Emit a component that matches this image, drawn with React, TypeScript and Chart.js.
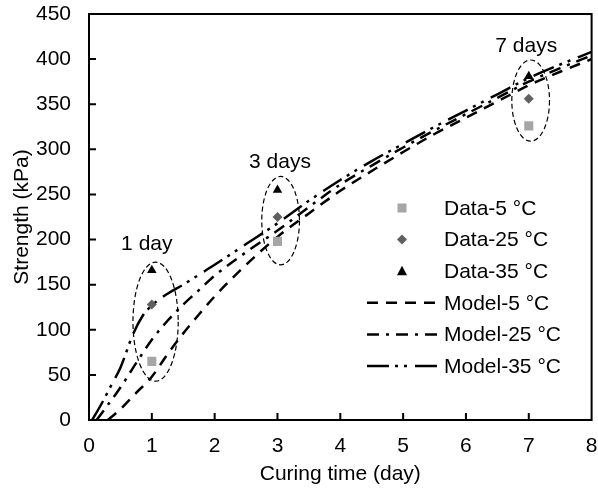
import React, { useEffect, useRef } from 'react';
import { Chart, registerables } from 'chart.js';

Chart.register(...registerables);

// ---- data ----
const curingDays = [1, 3, 7];
const data5C = [65, 198, 326];
const data25C = [128, 225, 356];
const data35C = [166, 255, 381];

const model5X = [0.3, 0.5, 0.75, 1, 1.25, 1.5, 1.75, 2, 2.5, 3, 3.5, 4, 4.5, 5, 5.5, 6, 6.5, 7, 7.5, 8];
const model5Y = [0, 12, 30, 48, 73, 96, 117, 137, 172, 203, 229, 254, 276, 297, 317, 335, 353, 371, 386, 400];

const model25X = [0.12, 0.25, 0.5, 0.75, 1, 1.25, 1.5, 1.75, 2, 2.5, 3, 3.5, 4, 4.5, 5, 5.5, 6, 6.5, 7, 7.5, 8];
const model25Y = [0, 12, 36, 63, 89, 110, 128, 144, 160, 186, 210, 236, 261, 282, 302, 321, 339, 357, 375, 390, 404];

const model35X = [0.05, 0.2, 0.35, 0.5, 0.7, 0.85, 1, 1.25, 1.5, 1.75, 2, 2.5, 3, 3.5, 4, 4.5, 5, 5.5, 6, 6.5, 7, 7.5, 8];
const model35Y = [0, 18, 38, 58, 95, 115, 127, 140, 150, 161, 172, 195, 218, 243, 266, 287, 306, 325, 343, 361, 379, 394, 408];

const xTicks = [0, 1, 2, 3, 4, 5, 6, 7, 8];
const yTicks = [0, 50, 100, 150, 200, 250, 300, 350, 400, 450];

// annotation groups: label, label position, ellipse centre and radii (data units)
const groupLabels = ['1 day', '3 days', '7 days'];
const labelX = [0.92, 3.04, 6.96];
const labelY = [195, 286, 414];
const ellipseCX = [1.06, 3.05, 7.03];
const ellipseCY = [109, 221, 354];
const ellipseRX = [0.36, 0.3, 0.3];
const ellipseRY = [66, 49, 45];

const FONT = "'Liberation Sans', Arial, sans-serif";
const FS = 21;

const zip = (xs: number[], ys: number[]) => xs.map((x, i) => ({ x, y: ys[i] }));

function drawMarker(ctx: CanvasRenderingContext2D, style: string, x: number, y: number, color: string) {
  ctx.save();
  ctx.fillStyle = color;
  ctx.beginPath();
  if (style === 'rect') {
    ctx.rect(x - 4.5, y - 4.5, 9, 9);
  } else if (style === 'rectRot') {
    ctx.moveTo(x, y - 5);
    ctx.lineTo(x + 5, y);
    ctx.lineTo(x, y + 5);
    ctx.lineTo(x - 5, y);
    ctx.closePath();
  } else {
    ctx.moveTo(x, y - 5.5);
    ctx.lineTo(x + 5, y + 4);
    ctx.lineTo(x - 5, y + 4);
    ctx.closePath();
  }
  ctx.fill();
  ctx.restore();
}

const decorPlugin = {
  id: 'decor',
  afterDatasetsDraw(chart: any) {
    const { ctx, chartArea, scales } = chart;
    const xs = scales.x;
    const ys = scales.y;
    ctx.save();
    // ellipses
    ctx.strokeStyle = '#000';
    ctx.lineWidth = 1.2;
    ctx.setLineDash([5, 3]);
    for (let i = 0; i < groupLabels.length; i++) {
      const cx = xs.getPixelForValue(ellipseCX[i]);
      const cy = ys.getPixelForValue(ellipseCY[i]);
      const rx = Math.abs(xs.getPixelForValue(ellipseCX[i] + ellipseRX[i]) - cx);
      const ry = Math.abs(ys.getPixelForValue(ellipseCY[i] + ellipseRY[i]) - cy);
      ctx.beginPath();
      ctx.ellipse(cx, cy, rx, ry, 0, 0, Math.PI * 2);
      ctx.stroke();
    }
    ctx.setLineDash([]);
    // group labels
    ctx.fillStyle = '#000';
    ctx.font = `${FS}px ${FONT}`;
    ctx.textAlign = 'center';
    ctx.textBaseline = 'middle';
    for (let i = 0; i < groupLabels.length; i++) {
      ctx.fillText(groupLabels[i], xs.getPixelForValue(labelX[i]), ys.getPixelForValue(labelY[i]));
    }
    // frame
    ctx.lineWidth = 2;
    ctx.strokeStyle = '#000';
    ctx.strokeRect(chartArea.left, chartArea.top, chartArea.right - chartArea.left, chartArea.bottom - chartArea.top);
    // inner ticks
    ctx.beginPath();
    xTicks.slice(1, -1).forEach((v) => {
      const px = xs.getPixelForValue(v);
      ctx.moveTo(px, chartArea.bottom);
      ctx.lineTo(px, chartArea.bottom - 7);
    });
    yTicks.slice(1, -1).forEach((v) => {
      const py = ys.getPixelForValue(v);
      ctx.moveTo(chartArea.left, py);
      ctx.lineTo(chartArea.left + 7, py);
    });
    ctx.stroke();
    // legend
    const ds = chart.data.datasets;
    const lx = chartArea.left + 278; // line sample start
    const markerX = chartArea.left + 313;
    const textX = chartArea.left + 355;
    let ly = 208;
    ds.forEach((d: any) => {
      if (d.showLine === false) {
        drawMarker(ctx, d.pointStyle, markerX, ly, d.pointBackgroundColor);
      } else {
        ctx.save();
        ctx.strokeStyle = d.borderColor;
        ctx.lineWidth = d.borderWidth;
        ctx.setLineDash(d.borderDash);
        ctx.beginPath();
        ctx.moveTo(lx, ly);
        ctx.lineTo(lx + 70, ly);
        ctx.stroke();
        ctx.restore();
      }
      ctx.fillStyle = '#000';
      ctx.textAlign = 'left';
      ctx.textBaseline = 'middle';
      ctx.fillText(d.label, textX, ly + 1);
      ly += 31.6;
    });
    ctx.restore();
  },
};

export default function App() {
  const ref = useRef<HTMLCanvasElement | null>(null);
  useEffect(() => {
    document.body.style.margin = '0';
    if (!ref.current) return;
    const pointDs = (label: string, ys: number[], style: string, color: string, r: number) => ({
      label,
      data: zip(curingDays, ys),
      showLine: false,
      pointStyle: style,
      pointRadius: r,
      pointHoverRadius: r,
      pointBackgroundColor: color,
      pointBorderColor: color,
      pointBorderWidth: 0,
      borderColor: color,
      backgroundColor: color,
    });
    const lineDs = (label: string, xs: number[], ys: number[], dash: number[]) => ({
      label,
      data: zip(xs, ys),
      showLine: true,
      borderColor: '#000',
      backgroundColor: '#000',
      borderWidth: 2.5,
      borderDash: dash,
      pointRadius: 0,
      pointHoverRadius: 0,
      cubicInterpolationMode: 'monotone',
      fill: false,
    });
    const chart = new Chart(ref.current, {
      type: 'line',
      data: {
        datasets: [
          pointDs('Data-5 °C', data5C, 'rect', '#a6a6a6', 6.4),
          pointDs('Data-25 °C', data25C, 'rectRot', '#606060', 5),
          pointDs('Data-35 °C', data35C, 'triangle', '#000000', 5.5),
          lineDs('Model-5 °C', model5X, model5Y, [11, 8]),
          lineDs('Model-25 °C', model25X, model25Y, [12, 7, 3, 7]),
          lineDs('Model-35 °C', model35X, model35Y, [22, 6, 3, 6, 3, 8]),
        ] as any,
      },
      options: {
        animation: false,
        responsive: false,
        maintainAspectRatio: false,
        layout: { padding: { top: 14, right: 6, left: 0, bottom: 0 } },
        plugins: { legend: { display: false }, tooltip: { enabled: false } },
        scales: {
          x: {
            type: 'linear',
            min: 0,
            max: 8,
            afterBuildTicks: (s: any) => { s.ticks = xTicks.map((v) => ({ value: v })); },
            afterFit: (s: any) => { s.height = 70; s.paddingLeft = 0; s.paddingRight = 0; },
            grid: { display: false, drawTicks: false },
            border: { display: false },
            ticks: { color: '#000', padding: 14, font: { family: FONT, size: FS } },
            title: { display: true, text: 'Curing time (day)', color: '#000', padding: { top: 0, bottom: 3 }, font: { family: FONT, size: FS } },
          },
          y: {
            type: 'linear',
            min: 0,
            max: 450,
            afterBuildTicks: (s: any) => { s.ticks = yTicks.map((v) => ({ value: v })); },
            afterFit: (s: any) => { s.width = 89; s.paddingTop = 0; s.paddingBottom = 0; },
            grid: { display: false, drawTicks: false },
            border: { display: false },
            ticks: { color: '#000', padding: 18, font: { family: FONT, size: FS } },
            title: { display: true, text: 'Strength (kPa)', color: '#000', padding: { top: 10, bottom: 0 }, font: { family: FONT, size: FS } },
          },
        },
      },
      plugins: [decorPlugin],
    });
    return () => chart.destroy();
  }, []);
  return (
    <div style={{ width: 598, height: 490, background: '#fff' }}>
      <canvas ref={ref} width={598} height={490} style={{ display: 'block', width: 598, height: 490 }} />
    </div>
  );
}
